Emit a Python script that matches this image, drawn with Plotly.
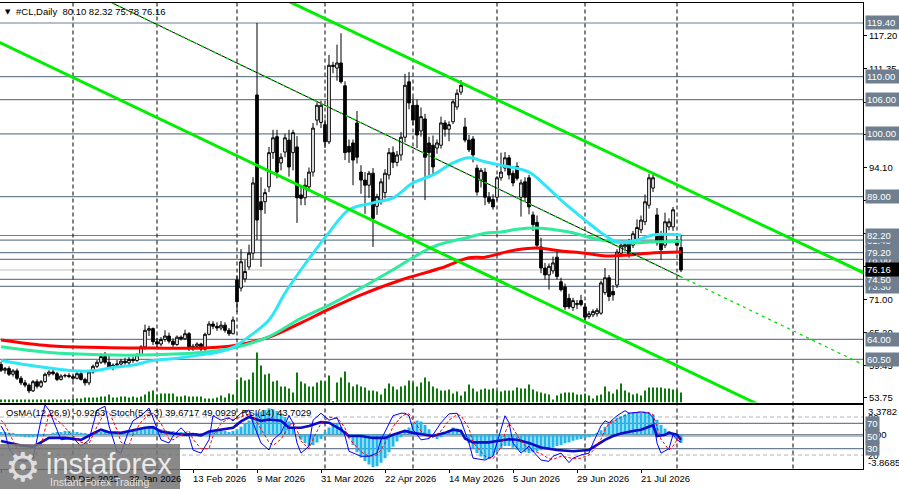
import plotly.graph_objects as go

W, H = 899, 489

# ---- price data (daily bars, index 0 = 5 Dec 2025, last = 4 Aug 2026) ----
OPEN = [
    59.6, 58.6, 58.9, 57.9, 58.5, 57.2, 56.4, 56.0, 55.0, 56.6,
    55.8, 56.6, 57.9, 58.3, 58.0, 57.0, 57.6, 57.7, 57.5, 57.2,
    58.0, 57.0, 56.4, 58.3, 59.3, 60.0, 61.0, 60.0, 59.2, 59.5,
    59.7, 60.2, 59.9, 60.5, 60.3, 61.3, 62.7, 65.6, 65.9, 63.6,
    63.2, 64.0, 64.6, 63.7, 63.1, 64.4, 64.1, 65.0, 62.5, 62.8,
    63.2, 62.3, 64.9, 66.7, 66.3, 66.0, 66.5, 65.6, 65.0, 74.4,
    73.0, 74.6, 76.7, 79.1, 106.8, 88.1, 88.1, 90.7, 96.7, 99.5,
    94.9, 96.8, 98.9, 96.7, 97.7, 89.3, 88.8, 90.7, 93.3, 102.4,
    102.0, 101.6, 98.6, 112.0, 111.5, 112.4, 108.4, 97.8, 98.4, 101.9,
    93.3, 91.9, 91.0, 93.1, 87.3, 88.4, 89.7, 92.8, 96.7, 95.0,
    96.3, 99.4, 109.1, 105.0, 105.0, 100.5, 102.6, 98.4, 98.0, 97.5,
    98.0, 101.9, 100.8, 102.1, 104.7, 107.3, 101.2, 98.9, 99.1, 94.0,
    91.9, 93.3, 88.9, 88.5, 88.9, 92.3, 94.0, 95.8, 93.1, 94.3,
    88.9, 91.6, 92.3, 85.8, 84.5, 80.2, 76.5, 75.3, 76.0, 78.4,
    74.1, 73.2, 71.2, 69.6, 70.1, 70.8, 69.7, 68.0, 68.3, 68.5,
    68.6, 72.2, 74.8, 72.4, 73.5, 79.1, 80.2, 81.0, 80.5, 81.4,
    83.2, 84.6, 87.5, 90.5, 85.8, 82.3, 80.5, 83.7, 83.7, 81.4,
    80.10,
]
HIGH = [
    60.1, 59.2, 59.3, 58.8, 58.9, 57.6, 56.9, 56.3, 56.9, 57.0,
    56.9, 58.2, 58.6, 58.7, 58.3, 57.9, 58.0, 58.1, 57.8, 58.4,
    58.3, 57.3, 58.6, 59.6, 60.4, 61.6, 61.8, 61.4, 59.8, 60.4,
    60.6, 60.8, 60.9, 61.0, 61.6, 63.0, 66.6, 66.4, 66.1, 64.3,
    64.4, 65.6, 65.2, 64.2, 64.7, 64.7, 65.7, 65.3, 63.2, 63.5,
    63.4, 65.2, 67.2, 67.2, 67.0, 67.2, 67.0, 66.0, 68.0, 75.2,
    79.8, 77.9, 80.6, 92.4, 119.4, 92.4, 90.4, 97.7, 100.7, 100.7,
    96.6, 100.0, 100.7, 100.7, 99.6, 90.9, 92.2, 94.1, 101.9, 105.5,
    105.8, 102.5, 113.8, 112.6, 115.6, 117.6, 109.2, 99.0, 99.0, 104.0,
    94.5, 93.3, 93.5, 94.0, 89.5, 92.2, 93.8, 97.5, 97.8, 97.0,
    100.3, 110.5, 110.8, 106.4, 106.0, 104.6, 103.5, 99.5, 99.7, 99.0,
    103.0, 102.4, 102.2, 106.0, 107.8, 109.4, 102.8, 99.8, 99.6, 94.6,
    94.0, 94.0, 89.8, 89.4, 92.6, 96.7, 96.8, 96.3, 93.6, 95.0,
    92.0, 92.4, 92.8, 86.4, 85.7, 81.8, 77.4, 77.3, 78.5, 79.5,
    74.8, 73.8, 72.0, 71.3, 70.9, 71.8, 70.4, 69.0, 69.3, 69.5,
    74.3, 76.5, 75.3, 73.5, 79.8, 81.0, 81.2, 81.6, 83.0, 85.0,
    85.7, 89.4, 93.0, 92.8, 87.0, 83.0, 86.2, 85.2, 87.2, 82.6,
    82.32,
]
LOW = [
    58.3, 58.0, 57.6, 57.5, 56.9, 56.0, 55.6, 54.6, 54.8, 55.4,
    55.5, 56.4, 57.5, 57.7, 56.7, 56.8, 57.3, 57.2, 56.8, 57.0,
    56.8, 55.9, 56.0, 58.0, 59.0, 59.7, 59.6, 58.9, 58.6, 59.1,
    59.3, 59.6, 59.5, 59.9, 60.1, 61.1, 62.2, 64.6, 63.0, 62.5,
    62.8, 63.6, 63.3, 62.7, 62.9, 63.8, 63.9, 62.0, 62.0, 62.3,
    61.9, 62.0, 64.7, 65.8, 65.5, 65.6, 65.2, 64.6, 64.9, 68.8,
    72.4, 74.0, 76.2, 78.0, 81.4, 76.7, 86.0, 89.8, 95.6, 92.2,
    93.6, 95.9, 92.5, 93.6, 84.4, 87.5, 87.5, 90.0, 92.5, 101.5,
    101.0, 97.5, 98.2, 110.6, 109.3, 108.8, 95.4, 94.9, 91.0, 94.8,
    89.5, 86.0, 88.8, 80.2, 85.8, 87.6, 88.7, 92.0, 94.0, 94.3,
    95.3, 98.5, 104.3, 101.5, 97.5, 99.5, 88.4, 92.7, 92.8, 96.5,
    97.4, 99.5, 98.7, 101.7, 104.2, 106.8, 98.5, 96.8, 95.0, 89.2,
    90.6, 87.5, 87.7, 86.7, 88.3, 91.8, 93.4, 92.0, 90.8, 91.8,
    85.5, 88.2, 85.9, 83.0, 79.8, 75.6, 74.5, 72.7, 75.5, 74.5,
    72.4, 69.2, 69.3, 69.0, 69.3, 69.8, 67.4, 67.6, 67.9, 68.0,
    68.3, 71.8, 70.7, 70.8, 73.0, 78.5, 79.4, 78.3, 80.0, 80.9,
    82.6, 84.0, 86.9, 89.8, 80.4, 77.9, 80.0, 83.1, 83.0, 80.1,
    75.78,
]
CLOSE = [
    58.6, 58.9, 57.9, 58.5, 57.2, 56.4, 56.0, 55.0, 56.6, 55.8,
    56.6, 57.9, 58.3, 58.0, 57.0, 57.6, 57.7, 57.5, 57.2, 58.0,
    57.0, 56.4, 58.3, 59.3, 60.0, 61.0, 60.0, 59.2, 59.5, 59.7,
    60.2, 59.9, 60.5, 60.3, 61.3, 62.7, 65.6, 65.9, 63.6, 63.2,
    64.0, 64.6, 63.7, 63.1, 64.4, 64.1, 65.0, 62.5, 62.8, 63.2,
    62.3, 64.9, 66.7, 66.3, 66.0, 66.5, 65.6, 65.0, 67.4, 70.6,
    77.6, 75.9, 79.1, 91.4, 84.9, 86.7, 89.7, 96.7, 99.3, 93.3,
    95.9, 99.3, 94.2, 100.2, 88.8, 88.7, 91.0, 93.3, 101.0, 105.0,
    105.0, 98.6, 112.0, 111.8, 112.4, 109.1, 96.7, 96.8, 95.4, 95.9,
    91.9, 91.0, 93.1, 85.2, 89.0, 91.6, 93.1, 96.7, 95.0, 96.3,
    99.4, 108.5, 105.4, 102.4, 99.8, 103.0, 95.9, 96.7, 94.2, 98.4,
    101.9, 100.8, 101.6, 105.6, 107.1, 108.5, 98.9, 97.2, 96.3, 89.8,
    93.6, 88.9, 88.1, 87.2, 92.3, 93.3, 95.8, 92.8, 91.4, 92.2,
    91.4, 88.9, 87.2, 84.1, 80.5, 76.5, 75.3, 76.8, 77.4, 75.0,
    72.7, 69.7, 69.7, 70.8, 70.3, 70.1, 67.9, 68.5, 68.9, 69.1,
    73.9, 74.8, 71.5, 71.8, 79.3, 80.5, 80.6, 78.8, 82.5, 83.6,
    84.9, 88.1, 92.3, 92.3, 80.9, 79.7, 84.6, 84.6, 86.7, 80.5,
    76.16,
]
VOLUME = [
    3, 3, 3, 3, 3, 3, 3, 3, 3, 3,
    3, 3, 3, 3, 3, 3, 3, 3, 4, 4,
    4, 5, 5, 5, 5, 6, 6, 8, 5, 5,
    6, 6, 5, 6, 5, 6, 8, 11, 12, 8,
    9, 9, 9, 9, 6, 6, 7, 6, 6, 6,
    6, 4, 4, 4, 5, 7, 5, 9, 8, 23,
    25, 22, 23, 30, 50, 37, 28, 29, 21, 22,
    16, 16, 14, 10, 30, 21, 19, 16, 16, 20,
    22, 21, 27, 1, 20, 25, 31, 20, 16, 18,
    16, 15, 12, 12, 11, 8, 14, 19, 16, 13,
    16, 17, 22, 20, 16, 20, 25, 21, 16, 14,
    12, 12, 13, 9, 11, 7, 11, 18, 14, 11,
    13, 14, 13, 14, 12, 11, 12, 12, 12, 15,
    14, 14, 18, 13, 11, 10, 9, 8, 3, 7,
    9, 10, 10, 10, 8, 8, 9, 7, 4, 7,
    8, 16, 11, 9, 13, 19, 12, 10, 8, 9,
    7, 12, 15, 15, 15, 15, 14, 14, 13, 13,
    10,
]
IDX = list(range(len(CLOSE)))

# moving averages, read at sample bars
MA_FAST_X = [0, 5, 12, 18, 23, 28, 33, 38, 44, 50, 55, 58, 62, 67, 71, 75, 82, 87, 93, 98,
             103, 108, 113, 117, 121, 125, 132, 136, 140, 146, 150, 154, 159, 163, 170]
MA_FAST = [60.3, 59.7, 59.0, 58.5, 58.5, 59.1, 59.5, 60.3, 60.7, 61.3, 61.9, 62.6, 64.5, 67.4, 72.1,
           76.2, 82.7, 86.7, 87.9, 88.8, 91.4, 92.8, 94.9, 95.8, 95.1, 94.5, 93.3, 91.0, 88.4, 84.9,
           82.7, 81.1, 81.4, 82.3, 82.3]
MA_MID_X = [0, 12, 25, 38, 50, 58, 67, 75, 82, 90, 98, 108, 117, 121, 125, 129, 134, 142, 150, 157, 164, 170]
MA_MID = [62.7, 61.7, 61.3, 61.3, 61.7, 62.5, 64.5, 67.7, 70.0, 73.0, 76.2, 80.2, 81.9, 82.6, 82.8,
          83.3, 83.5, 82.8, 81.4, 80.9, 81.1, 81.2]
MA_SLOW_X = [0, 12, 25, 38, 50, 58, 67, 75, 82, 90, 100, 110, 117, 121, 125, 129, 134, 140, 146, 152, 157, 162, 170]
MA_SLOW = [63.9, 62.9, 62.6, 62.5, 62.5, 62.9, 64.4, 66.9, 69.3, 71.8, 74.4, 76.5, 78.3, 78.4, 79.1,
           79.7, 80.0, 79.5, 79.1, 78.6, 78.8, 79.1, 79.3]

# support / resistance levels
LEVELS = [119.40, 110.00, 106.00, 100.00, 89.00, 81.40, 82.20, 78.00, 79.20, 73.30, 74.50, 64.00, 60.50]
LAST_PRICE = 76.16

# trend lines: (bar, price) anchors
CHANNEL_UP = [(72, 123.15), (216, 75.55)]
CHANNEL_DN = [(-1, 116.2), (216, 43.7)]
MID_LINE = [(26.25, 123.43), (170, 74.96), (216, 59.45)]

# period separators (bar index of month start)
SEPARATORS = [18, 39, 59, 81, 103, 124, 146, 169, 198]

PRICE_TICKS = [53.75, 59.45, 65.20, 71.00, 76.75, 82.55, 88.40, 94.10, 99.85, 105.55, 111.35, 117.20]

DATE_IDX = [0, 16, 32, 48, 64, 80, 96, 112, 128, 144, 160]
DATE_TXT = ["5 Dec 2025", "30 Dec 2025", "22 Jan 2026", "13 Feb 2026", "9 Mar 2026", "31 Mar 2026",
            "22 Apr 2026", "14 May 2026", "5 Jun 2026", "29 Jun 2026", "21 Jul 2026"]

# ---- indicators ----
OSMA = [
    0.3, 0.3, 0.2, 0.1, -0.1, -0.2, -0.3, -0.3, -0.3, -0.2,
    -0.2, -0.1, 0.0, 0.2, 0.3, 0.3, 0.4, 0.4, 0.3, 0.3,
    0.2, 0.1, 0.0, 0.1, 0.2, 0.3, 0.4, 0.4, 0.3, 0.3,
    0.3, 0.4, 0.4, 0.5, 0.6, 0.7, 0.9, 1.0, 0.9, 0.7,
    0.6, 0.5, 0.4, 0.4, 0.3, 0.3, 0.3, 0.2, 0.1, 0.1,
    0.1, 0.2, 0.3, 0.4, 0.4, 0.4, 0.4, 0.3, 0.4, 0.6,
    0.9, 1.3, 1.6, 2.0, 2.4, 2.6, 2.8, 3.0, 2.9, 2.7,
    2.4, 2.0, 1.5, 0.8, 0.0, -0.6, -1.0, -1.3, -1.2, -0.9,
    -0.5, 0.3, 0.8, 1.1, 1.2, 0.9, 0.4, -0.4, -1.2, -2.0,
    -2.6, -3.0, -3.4, -3.7, -3.6, -3.2, -2.7, -2.0, -1.4, -0.8,
    -0.3, 0.3, 0.8, 1.3, 1.6, 1.5, 1.1, 0.6, -0.2, -0.5,
    -0.3, 0.2, 0.5, 0.8, 0.7, 0.4, -0.3, -1.0, -1.6, -2.1,
    -2.5, -2.8, -2.7, -2.4, -2.0, -1.6, -1.3, -1.3, -1.5, -1.7,
    -1.9, -2.0, -2.1, -2.0, -1.9, -1.8, -1.7, -1.6, -1.5, -1.3,
    -1.2, -1.0, -0.9, -0.7, -0.6, -0.5, -0.4, -0.3, -0.1, 0.2,
    0.5, 0.9, 1.3, 1.6, 1.9, 2.1, 2.3, 2.4, 2.5, 2.5,
    2.5, 2.5, 2.4, 2.3, 1.7, 1.1, 0.7, 0.4, 0.1, -0.4,
    -0.93,
]
STOCH_X = [0, 1, 2, 4, 6, 8, 10, 11, 12, 15, 18, 20, 22, 24, 26, 27, 29, 30, 32, 33, 35, 37, 38, 40, 42,
           43, 45, 47, 48, 50, 52, 53, 55, 57, 58, 60, 62, 63, 65, 67, 68, 70, 72, 73, 74, 75, 77, 78,
           80, 82, 84, 85, 86, 87, 90, 92, 94, 95, 97, 98, 100, 101, 102, 103, 105, 107, 108, 110, 112,
           114, 115, 117, 118, 121, 123, 125, 126, 127, 128, 130, 132, 133, 135, 137, 138, 140, 142,
           143, 145, 147, 148, 150, 151, 152, 154, 156, 157, 160, 162, 163, 164, 165, 167, 168, 169, 170]
STOCH_MAIN = [66, 55, 30, 12, 10, 15, 75, 99, 91, 44, 47, 34, 44, 91, 97, 66, 26, 23, 60, 74, 82, 94, 79,
              44, 39, 50, 63, 50, 28, 23, 44, 82, 75, 79, 74, 86, 91, 71, 39, 28, 44, 55, 82, 71, 39, 23,
              34, 75, 86, 75, 79, 65, 50, 26, 18, 18, 23, 44, 71, 82, 86, 86, 82, 60, 44, 46, 52, 71, 85,
              86, 74, 39, 15, 12, 18, 60, 82, 71, 39, 23, 34, 26, 12, 10, 18, 23, 8, 15, 20, 23, 39, 66,
              74, 71, 82, 90, 86, 88, 86, 79, 39, 23, 30, 52, 44, 40]
STOCH_SIGNAL = [75, 68, 55, 30, 14, 12, 35, 60, 85, 70, 50, 40, 38, 65, 88, 88, 60, 40, 35, 52, 72, 84,
                86, 70, 45, 44, 52, 58, 45, 30, 30, 50, 70, 78, 76, 80, 85, 82, 60, 40, 35, 45, 65, 72,
                60, 42, 30, 45, 70, 80, 78, 72, 62, 46, 25, 18, 20, 28, 50, 65, 80, 84, 85, 75, 58, 48,
                48, 58, 75, 84, 82, 62, 40, 18, 14, 32, 55, 70, 62, 42, 28, 27, 22, 14, 13, 18, 16, 14,
                15, 20, 27, 45, 60, 70, 76, 82, 86, 88, 87, 84, 66, 45, 28, 34, 44, 49]
RSI_X = [0, 3, 5, 8, 10, 12, 16, 20, 23, 25, 27, 30, 33, 36, 38, 40, 43, 46, 48, 50, 52, 55, 58, 60, 62,
         65, 67, 70, 72, 75, 77, 80, 82, 85, 87, 90, 93, 96, 98, 101, 103, 106, 108, 111, 113, 115, 116,
         118, 122, 124, 127, 129, 132, 135, 139, 143, 147, 148, 150, 151, 153, 155, 158, 160, 163, 164,
         166, 167, 169, 170]
RSI = [42, 38, 35, 33, 40, 47, 47, 44, 54, 60, 56, 55, 59, 63, 64, 57, 54, 52, 53, 51, 57, 60, 63, 73, 80,
       74, 76, 74, 63, 63, 66, 72, 71, 60, 50, 50, 47, 47, 52, 58, 55, 52, 50, 55, 60, 58, 46, 40, 40, 42,
       45, 44, 39, 32, 28, 26, 28, 32, 40, 44, 50, 54, 58, 60, 67, 50, 52, 55, 52, 44]

SLATE = "#6F7F8F"
FONT = "Liberation Sans, Arial, sans-serif"


def py(ypx):
    return 1 - ypx / H


fig = go.Figure()

# volume at the bottom of the price window
fig.add_trace(go.Bar(x=IDX, y=VOLUME, width=0.3, marker=dict(color="#0B7A0B", line=dict(width=0)),
                     xaxis="x", yaxis="y3", hoverinfo="skip"))

fig.add_trace(go.Candlestick(
    x=IDX, open=OPEN, high=HIGH, low=LOW, close=CLOSE, xaxis="x", yaxis="y",
    increasing=dict(line=dict(color="black", width=1), fillcolor="white"),
    decreasing=dict(line=dict(color="black", width=1), fillcolor="black"),
    whiskerwidth=0, hoverinfo="skip",
))

for xs, ys, col in [(MA_SLOW_X, MA_SLOW, "#FF0000"), (MA_MID_X, MA_MID, "#2EEB9E"),
                    (MA_FAST_X, MA_FAST, "#2EE6F6")]:
    fig.add_trace(go.Scatter(x=xs, y=ys, mode="lines", line=dict(color=col, width=3, shape="spline"),
                             xaxis="x", yaxis="y", hoverinfo="skip"))

# trend channel
for pts in [CHANNEL_UP, CHANNEL_DN]:
    fig.add_trace(go.Scatter(x=[p[0] for p in pts], y=[p[1] for p in pts], mode="lines",
                             line=dict(color="#00EE00", width=3), xaxis="x", yaxis="y", hoverinfo="skip"))
fig.add_trace(go.Scatter(x=[p[0] for p in MID_LINE[:2]], y=[p[1] for p in MID_LINE[:2]], mode="lines",
                         line=dict(color="black", width=1), xaxis="x", yaxis="y", hoverinfo="skip"))
fig.add_trace(go.Scatter(x=[p[0] for p in MID_LINE], y=[p[1] for p in MID_LINE], mode="lines",
                         line=dict(color="#00E000", width=1.3, dash="3px,4px"), xaxis="x", yaxis="y",
                         hoverinfo="skip"))

# indicator window
fig.add_trace(go.Bar(x=IDX, y=OSMA, width=0.75, marker=dict(color="#22B8EE", line=dict(width=0)),
                     xaxis="x2", yaxis="y2", hoverinfo="skip"))
fig.add_trace(go.Scatter(x=RSI_X, y=RSI, mode="lines", line=dict(color="#0C0CC8", width=2.6),
                         xaxis="x2", yaxis="y4", hoverinfo="skip"))
fig.add_trace(go.Scatter(x=STOCH_X, y=STOCH_SIGNAL, mode="lines",
                         line=dict(color="#FF0000", width=1, dash="3px,2px"),
                         xaxis="x2", yaxis="y4", hoverinfo="skip"))
fig.add_trace(go.Scatter(x=STOCH_X, y=STOCH_MAIN, mode="lines", line=dict(color="#0000FF", width=1),
                         xaxis="x2", yaxis="y4", hoverinfo="skip"))

shapes = []
for lv in LEVELS:
    shapes.append(dict(type="line", xref="paper", x0=0, x1=863 / W, yref="y", y0=lv, y1=lv,
                       line=dict(color=SLATE, width=1.2), layer="below"))
shapes.append(dict(type="line", xref="paper", x0=0, x1=863 / W, yref="y", y0=LAST_PRICE, y1=LAST_PRICE,
                   line=dict(color="#C0C0C0", width=1), layer="below"))
for lv in [70, 50, 30]:
    shapes.append(dict(type="line", xref="paper", x0=0, x1=863 / W, yref="y4", y0=lv, y1=lv,
                       line=dict(color=SLATE, width=1.2), layer="below"))
for lv in [80, 20]:
    shapes.append(dict(type="line", xref="paper", x0=0, x1=863 / W, yref="y4", y0=lv, y1=lv,
                       line=dict(color="#B4B4B4", width=1, dash="4px,3px"), layer="below"))
shapes.append(dict(type="line", xref="paper", x0=0, x1=863 / W, yref="y2", y0=0, y1=0,
                   line=dict(color=SLATE, width=1), layer="below"))
for s in SEPARATORS:
    shapes.append(dict(type="line", xref="x", x0=s, x1=s, yref="paper", y0=py(468.5), y1=py(3),
                       line=dict(color="black", width=1, dash="4px,3px"), layer="below"))
# watermark box
shapes.append(dict(type="rect", xref="paper", yref="paper", x0=0, x1=180 / W, y0=0, y1=py(444),
                   fillcolor="rgba(118,118,118,0.86)", line=dict(width=0), layer="above"))

ann = []
lab_font = dict(family=FONT, size=9.5, color="black")
ann.append(dict(xref="paper", yref="paper", x=3 / W, y=py(12), text="▼", showarrow=False,
                xanchor="left", yanchor="middle", font=dict(family="DejaVu Sans", size=7, color="black")))
ann.append(dict(xref="paper", yref="paper", x=14 / W, y=py(11.5),
                text="#CL,Daily  80.10 82.32 75.78 76.16", showarrow=False,
                xanchor="left", yanchor="middle", font=lab_font))
ann.append(dict(xref="paper", yref="paper", x=4 / W, y=py(412),
                text="OsMA(12,26,9) -0.9263  Stoch(5,3,3) 39.6717 49.0929  RSI(14) 43.7029",
                showarrow=False, xanchor="left", yanchor="middle", font=lab_font))

for lv in LEVELS:
    ann.append(dict(xref="paper", yref="y", x=865 / W, y=lv, text=f"{lv:.2f}", showarrow=False,
                    xanchor="left", yanchor="middle", bgcolor=SLATE, borderpad=1, width=32, align="left",
                    font=dict(family=FONT, size=9.5, color="white")))
ann.append(dict(xref="paper", yref="y", x=865 / W, y=LAST_PRICE, text=f"{LAST_PRICE:.2f}", showarrow=False,
                xanchor="left", yanchor="middle", bgcolor="black", borderpad=1, width=32, align="left",
                font=dict(family=FONT, size=9.5, color="white")))

# indicator window scale labels
ann.append(dict(xref="paper", yref="paper", x=866 / W, y=py(411.5), text="3.3782", showarrow=False,
                xanchor="left", yanchor="middle", font=lab_font))
ann.append(dict(xref="paper", yref="paper", x=866 / W, y=py(462), text="-3.8685", showarrow=False,
                xanchor="left", yanchor="middle", font=lab_font))
ann.append(dict(xref="paper", yref="y2", x=866 / W, y=0, text="0.00", showarrow=False,
                xanchor="left", yanchor="middle", font=lab_font))
for lv in [80, 20]:
    ann.append(dict(xref="paper", yref="y4", x=866 / W, y=lv, text=str(lv), showarrow=False,
                    xanchor="left", yanchor="middle", font=lab_font))
for lv in [70, 50, 30]:
    ann.append(dict(xref="paper", yref="y4", x=865 / W, y=lv, text=str(lv), showarrow=False,
                    xanchor="left", yanchor="middle", bgcolor=SLATE, borderpad=1,
                    font=dict(family=FONT, size=9.5, color="white")))

for i, t in zip(DATE_IDX, DATE_TXT):
    ann.append(dict(xref="x2", yref="paper", x=i - 0.4, y=py(478.5), text=t, showarrow=False,
                    xanchor="left", yanchor="middle", font=lab_font))

# watermark texts
ann.append(dict(xref="paper", yref="paper", x=23 / W, y=py(467), text="⚙", showarrow=False,
                xanchor="center", yanchor="middle",
                font=dict(family="DejaVu Sans", size=40, color="rgba(235,235,235,0.9)")))
ann.append(dict(xref="paper", yref="paper", x=44 / W, y=py(464), text="instaforex", showarrow=False,
                xanchor="left", yanchor="middle",
                font=dict(family=FONT, size=29, color="rgba(240,240,240,0.95)")))
ann.append(dict(xref="paper", yref="paper", x=48 / W, y=py(482), text="Instant Forex Trading",
                showarrow=False, xanchor="left", yanchor="middle",
                font=dict(family=FONT, size=10.5, color="rgba(235,235,235,0.95)")))

xdom = [0, 863 / W]
axis_common = dict(showgrid=False, zeroline=False, showline=True, mirror=True, linecolor="black", linewidth=1)

fig.update_layout(
    width=W, height=H,
    margin=dict(l=0, r=0, t=0, b=0),
    paper_bgcolor="white", plot_bgcolor="white",
    showlegend=False, hovermode=False, barmode="overlay", boxgap=0.05,
    xaxis=dict(domain=xdom, range=[-0.25, 215.5], anchor="y", showticklabels=False, ticks="",
               rangeslider=dict(visible=False), **axis_common),
    yaxis=dict(domain=[py(402.5), py(3)], range=[52.96, 122.9], anchor="x", side="right",
               tickvals=PRICE_TICKS, ticktext=[f"{v:.2f}" for v in PRICE_TICKS],
               ticks="outside", ticklen=3, tickcolor="black",
               tickfont=dict(family=FONT, size=9.5, color="black"), **axis_common),
    yaxis3=dict(overlaying="y", range=[0, 399.5], visible=False),
    xaxis2=dict(domain=xdom, matches="x", anchor="y2", showticklabels=False,
                tickvals=DATE_IDX, ticks="outside", ticklen=3, tickcolor="black", **axis_common),
    yaxis2=dict(domain=[py(468.5), py(405)], range=[-3.8685, 3.3782], anchor="x2", side="right",
                showticklabels=False, ticks="", **axis_common),
    yaxis4=dict(overlaying="y2", range=[-1.3, 99.0], visible=False),
    shapes=shapes,
    annotations=ann,
)

# page body has a default 8px margin; remove it so the figure sits at the window origin
fig.write_html("out.html", config={"displayModeBar": False},
               post_script="document.body.style.margin='0';document.body.style.overflow='hidden';")
